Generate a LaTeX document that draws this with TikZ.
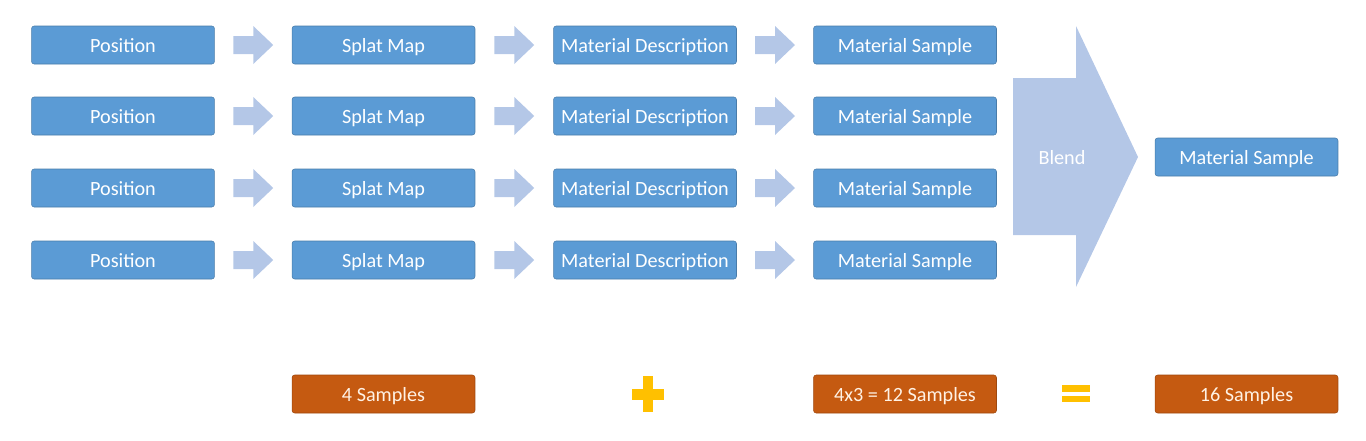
\documentclass[tikz,border=0pt]{standalone}
\usepackage{fontspec}
\setmainfont{Carlito}
\usetikzlibrary{calc}
\definecolor{boxblue}{HTML}{5B9BD5}
\definecolor{arrowblue}{HTML}{B4C7E7}
\definecolor{countorange}{HTML}{C55A11}
\definecolor{signyellow}{HTML}{FFC000}
\tikzset{
  box/.style={fill=boxblue,draw=boxblue!80!black,line width=0.3pt,rounded corners=1.5pt,
    text=white,minimum width=3.66cm,minimum height=0.76cm,inner sep=0pt,
    text height=2ex,text depth=0.2ex,
    font=\fontsize{11.5}{13}\selectfont},
  countbox/.style={box,fill=countorange,draw=countorange!80!black,text=white!90!orange},
  blockarrow/.style={fill=arrowblue,draw=none}
}
\begin{document}
\begin{tikzpicture}[x=0.02cm,y=-0.02cm]
    \useasboundingbox (0,0) rectangle (1366,440);
    % the four chains
    \foreach \r/\y in {1/45,2/116,3/188,4/260}{
        \node [box] (pos\r) at (123,\y) {Position};
        \node [box] (splat\r) at (383.5,\y) {Splat Map};
        \node [box] (desc\r) at (645,\y) {Material Description};
        \node [box] (samp\r) at (905,\y) {Material Sample};
        \foreach \a/\b in {pos/splat,splat/desc,desc/samp}{
            \fill [blockarrow] ($(\a\r.east)!0.5!(\b\r.west)$) ++(-20,-9) -- ++(20,0) -- ++(0,-10)
                -- ++(20,19) -- ++(-20,19) -- ++(0,-10) -- ++(-20,0) -- cycle;
        }
    }
    % blend
    \fill [blockarrow] (1013,78) -- (1076,78) -- (1076,26) -- (1138,157) -- (1076,287)
        -- (1076,235) -- (1013,235) -- cycle;
    \node [text=white,font=\fontsize{11.5}{13}\selectfont,text height=2ex,text depth=0.2ex]
        (blend) at (1062,157) {Blend};
    \node [box] (result) at (1246.5,157) {Material Sample};
    % sample count
    \node [countbox] (count1) at (383.5,394) {4 Samples};
    \node [countbox] (count2) at (905,394) {4x3 = 12 Samples};
    \node [countbox] (total) at (1246.5,394) {16 Samples};
    \fill [signyellow] (643,376) rectangle (653,412);
    \fill [signyellow] (632,389) rectangle (664,400);
    \fill [signyellow] (1062,385) rectangle (1090,392);
    \fill [signyellow] (1062,396) rectangle (1090,402);
\end{tikzpicture}
\end{document}
